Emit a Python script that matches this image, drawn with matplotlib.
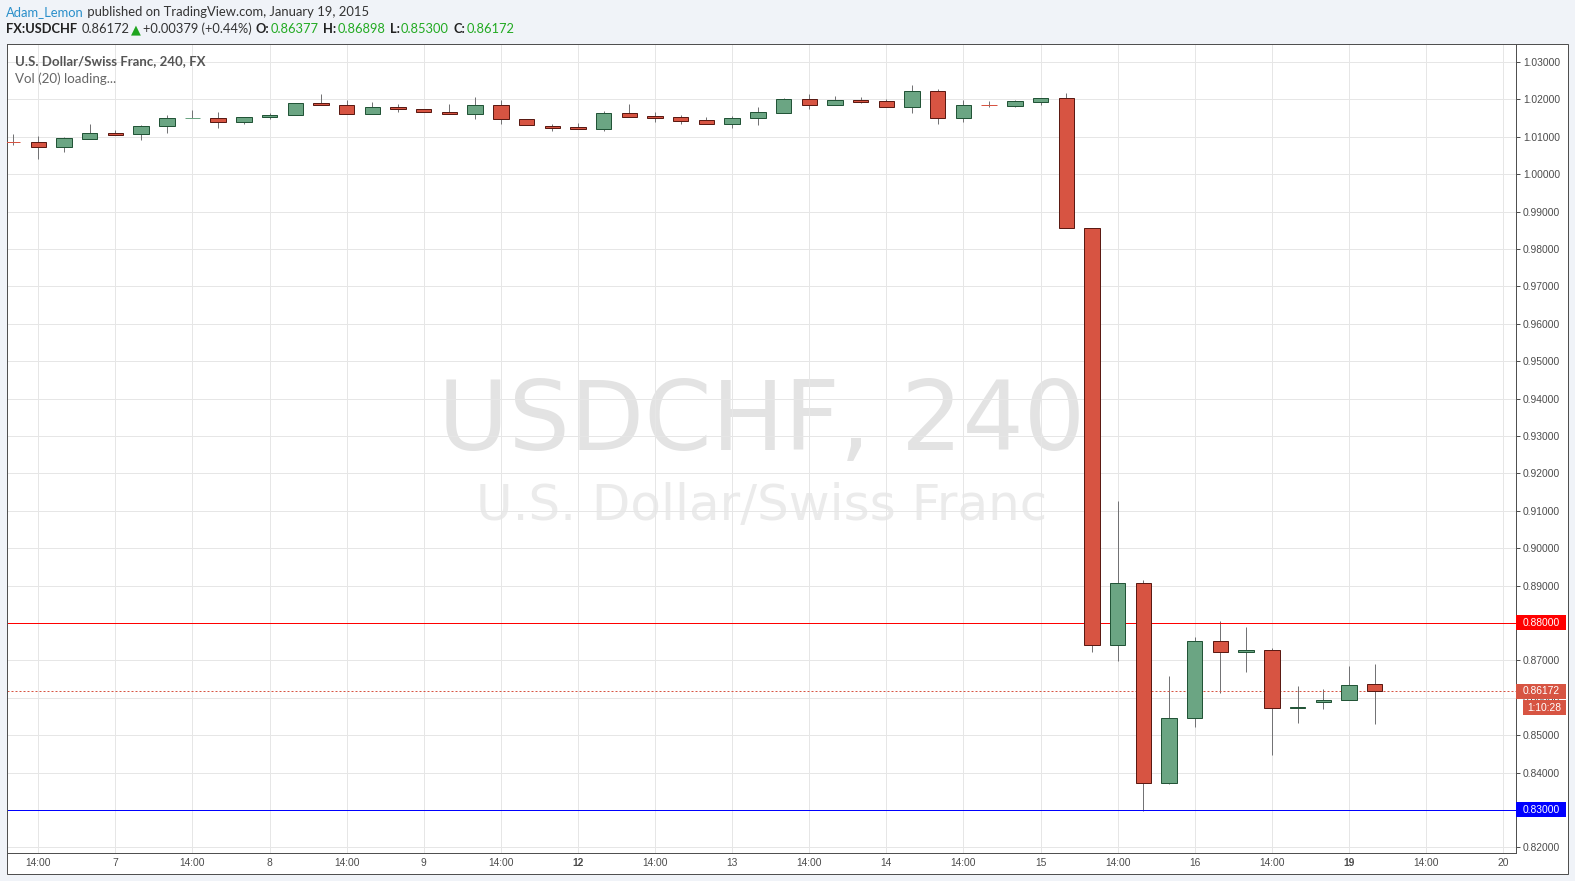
import matplotlib
matplotlib.use("Agg")
import matplotlib.pyplot as plt
from matplotlib.patches import Rectangle
from matplotlib.transforms import IdentityTransform

# ---------------- data ----------------
opens = [1.0085, 1.0085, 1.0072, 1.0095, 1.0110, 1.0106, 1.0128, 1.0149, 1.0149, 1.0138,
         1.0152, 1.0157, 1.0189, 1.0184, 1.0160, 1.0179, 1.0173, 1.0165, 1.0160, 1.0184,
         1.0146, 1.0128, 1.0126, 1.0121, 1.0163, 1.0155, 1.0152, 1.0144, 1.0135, 1.0149,
         1.0164, 1.0200, 1.0186, 1.0197, 1.0195, 1.0180, 1.0221, 1.0151, 1.0184, 1.0183,
         1.0194, 1.0203, 0.9857, 0.8741, 0.8906, 0.8372, 0.8546, 0.8752, 0.8723, 0.8728,
         0.8572, 0.8589, 0.8594, 0.86377]
highs = [1.0107, 1.0102, 1.0098, 1.0134, 1.0117, 1.0131, 1.0158, 1.0171, 1.0166, 1.0152,
         1.0163, 1.0189, 1.0214, 1.0198, 1.0193, 1.0187, 1.0173, 1.0187, 1.0206, 1.0198,
         1.0146, 1.0134, 1.0137, 1.0169, 1.0188, 1.0165, 1.0159, 1.0152, 1.0155, 1.0180,
         1.0204, 1.0214, 1.0209, 1.0206, 1.0201, 1.0238, 1.0228, 1.0198, 1.0196, 1.0198,
         1.0203, 1.0217, 0.9857, 0.9127, 0.8916, 0.8657, 0.8761, 0.8804, 0.8790, 0.8733,
         0.8632, 0.8622, 0.8686, 0.86898]
lows = [1.0078, 1.0040, 1.0060, 1.0095, 1.0105, 1.0091, 1.0111, 1.0149, 1.0124, 1.0134,
        1.0148, 1.0157, 1.0184, 1.0160, 1.0160, 1.0167, 1.0165, 1.0160, 1.0148, 1.0135,
        1.0130, 1.0116, 1.0121, 1.0116, 1.0154, 1.0138, 1.0135, 1.0135, 1.0124, 1.0130,
        1.0164, 1.0174, 1.0186, 1.0190, 1.0180, 1.0163, 1.0135, 1.0140, 1.0180, 1.0180,
        1.0186, 0.9857, 0.8722, 0.8698, 0.8296, 0.8370, 0.8521, 0.8612, 0.8668, 0.8446,
        0.8532, 0.8569, 0.8594, 0.85300]
closes = [1.00848, 1.0072, 1.0096, 1.0109, 1.0105, 1.0128, 1.0149, 1.01491, 1.0138, 1.0152,
          1.0158, 1.0189, 1.0184, 1.0160, 1.0179, 1.0173, 1.0165, 1.0160, 1.0184, 1.0147,
          1.0130, 1.0124, 1.0121, 1.0163, 1.0154, 1.0151, 1.0143, 1.0135, 1.0149, 1.0165,
          1.0200, 1.0186, 1.0197, 1.0193, 1.0180, 1.0221, 1.0151, 1.0184, 1.01839, 1.0195,
          1.0203, 0.9857, 0.8741, 0.8906, 0.8372, 0.8546, 0.8752, 0.8723, 0.8728, 0.8573,
          0.8575, 0.8594, 0.8634, 0.86172]

x_tick_labels = ['14:00', '7', '14:00', '8', '14:00', '9', '14:00', '12', '14:00', '13',
                 '14:00', '14', '14:00', '15', '14:00', '16', '14:00', '19', '14:00', '20']
week_start_labels = ['12', '19']
price_ticks = [0.82, 0.83, 0.84, 0.85, 0.86, 0.87, 0.88, 0.89, 0.90, 0.91, 0.92,
               0.93, 0.94, 0.95, 0.96, 0.97, 0.98, 0.99, 1.00, 1.01, 1.02, 1.03]
resistance = 0.88
support = 0.83
last_price = 0.86172
countdown = '1:10:28'

header_user = 'Adam_Lemon'
header_rest = ' published on TradingView.com, January 19, 2015'
symbol = 'FX:USDCHF'
change_text = '+0.00379 (+0.44%)'
ohlc_labels = ['O:', 'H:', 'L:', 'C:']
ohlc_values = ['0.86377', '0.86898', '0.85300', '0.86172']

# ---------------- style ----------------
W, H = 1575, 881
GREEN, GREEN_EDGE = '#6ba583', '#225437'
RED, RED_EDGE = '#d75442', '#5b1a13'
WICK = '#737375'
GRID = '#e6e6e6'
AXC = '#505050'
BG = '#f0f3f8'
px = 0.72  # one pixel in points

fig = plt.figure(figsize=(W / 100, H / 100), dpi=100, facecolor=BG)

top_px, bot_px, left_px, right_px = 43.5, 853.3, 7, 1516
ax = fig.add_axes([left_px / W, (H - bot_px) / H, (right_px - left_px) / W, (bot_px - top_px) / H])
ax.set_facecolor('white')

# white panel (price scale + time scale area) with frame
fig.patches.append(Rectangle((left_px / W, (H - 873.5) / H), (1568 - left_px) / W, (873.5 - top_px) / H,
                             transform=fig.transFigure, facecolor='white', edgecolor=AXC,
                             linewidth=px, zorder=-1))

n = len(opens)
xs = list(range(n))
ax.set_xlim(-0.218, 58.5)
ax.set_ylim(0.818396, 1.03492)

# watermark
ax.text(0.5, 0.498, 'USDCHF, 240', transform=ax.transAxes, ha='center', va='baseline',
        fontsize=69.5, color='#e3e3e3', family='DejaVu Sans', zorder=0.1)
ax.text(0.5, 0.4116, 'U.S. Dollar/Swiss Franc', transform=ax.transAxes, ha='center', va='baseline',
        fontsize=36, color='#ebebeb', family='DejaVu Sans', zorder=0.1)

# grid / ticks
ax.set_axisbelow(True)
ax.set_xticks(list(range(1, 59, 3)))
ax.set_xticklabels(x_tick_labels)
for lab in ax.get_xticklabels():
    if lab.get_text() in week_start_labels:
        lab.set_fontweight('bold')
ax.set_yticks(price_ticks)
ax.set_yticklabels(['%.5f' % p for p in price_ticks])
ax.yaxis.tick_right()
ax.grid(True, color=GRID, linewidth=px)
ax.tick_params(axis='x', length=0, pad=3.3, labelsize=7.4, labelcolor='#4c4c4c')
ax.tick_params(axis='y', length=3, width=px, color=AXC, pad=2, labelsize=7.4, labelcolor='#4c4c4c')
for lab in ax.get_xticklabels() + ax.get_yticklabels():
    lab.set_family('Liberation Sans')
for s in ax.spines.values():
    s.set_color(AXC)
    s.set_linewidth(px)

# horizontal levels
ax.axhline(resistance, color='#ff0000', linewidth=px, zorder=2.5)
ax.axhline(support, color='#0000ff', linewidth=px, zorder=2.5)
ax.axhline(last_price, color=RED, linewidth=px, linestyle=(0, (2, 2)), zorder=2.5)

# candles
ax.vlines(xs, lows, highs, color=WICK, linewidth=px, zorder=2)
for i in range(n):
    o, c = opens[i], closes[i]
    up = c > o
    body = GREEN if up else RED
    edge = GREEN_EDGE if up else RED_EDGE
    h = abs(c - o)
    if h < 0.00005:
        h = 0.0
        edge = body
    ax.bar(xs[i], h, bottom=min(o, c), width=0.6, color=body, edgecolor=edge,
           linewidth=px, zorder=3)

# right-side price labels
fig.canvas.draw()
renderer = fig.canvas.get_renderer()


def ypix(p):
    return ax.transData.transform((0, p))[1]


def label_box(p, text, color, x0=1516, x1=1566, dy=0.0, hgt=15):
    yc = ypix(p) + dy
    fig.patches.append(Rectangle((x0, yc - hgt / 2), x1 - x0, hgt, transform=IdentityTransform(),
                                 facecolor=color, edgecolor='none', zorder=5))
    fig.text((x0 + x1) / 2 / W, yc / H, text, ha='center', va='center', color='white',
             fontsize=7.4, family='Liberation Sans', zorder=6)


label_box(resistance, '%.5f' % resistance, '#ff0000')
label_box(support, '%.5f' % support, '#0000ff')
label_box(last_price, '%.5f' % last_price, RED)
label_box(last_price, countdown, RED, x0=1522.7, x1=1566, dy=-16.5)

# header rows
HF = ['Lato', 'DejaVu Sans']


def seq(pieces, x, y_px, size):
    for text, color, weight, gap in pieces:
        t = fig.text(x / W, 1 - y_px / H, text, ha='left', va='baseline', color=color,
                     fontsize=size, fontweight=weight, family=HF)
        bb = t.get_window_extent(renderer)
        x = bb.x1 + gap
    return x


seq([(header_user, '#2a8fca', 'normal', 0),
     (header_rest, '#333333', 'normal', 0)], 6.4, 16.5, 9.4)

pieces = [(symbol, '#222222', 'bold', 4),
          ('%.5f' % last_price, '#333333', 'normal', 1.5),
          ('\u25B2', '#1fa51f', 'normal', 2),
          (change_text, '#333333', 'normal', 4)]
for lbl, val in zip(ohlc_labels, ohlc_values):
    pieces.append((lbl, '#222222', 'bold', 1.5))
    pieces.append((val, '#22aa22', 'normal', 4))
seq(pieces, 6.4, 33.3, 9.3)

# legend inside plot
fig.text(15 / W, 1 - 65 / H, 'U.S. Dollar/Swiss Franc, 240, FX', ha='left', va='baseline',
         color='#555555', fontsize=9.5, fontweight='bold', family=HF)
fig.text(15 / W, 1 - 83 / H, 'Vol (20) loading...', ha='left', va='baseline',
         color='#666666', fontsize=9.6, family=HF)

fig.savefig('out.png', dpi=100, facecolor=BG)
